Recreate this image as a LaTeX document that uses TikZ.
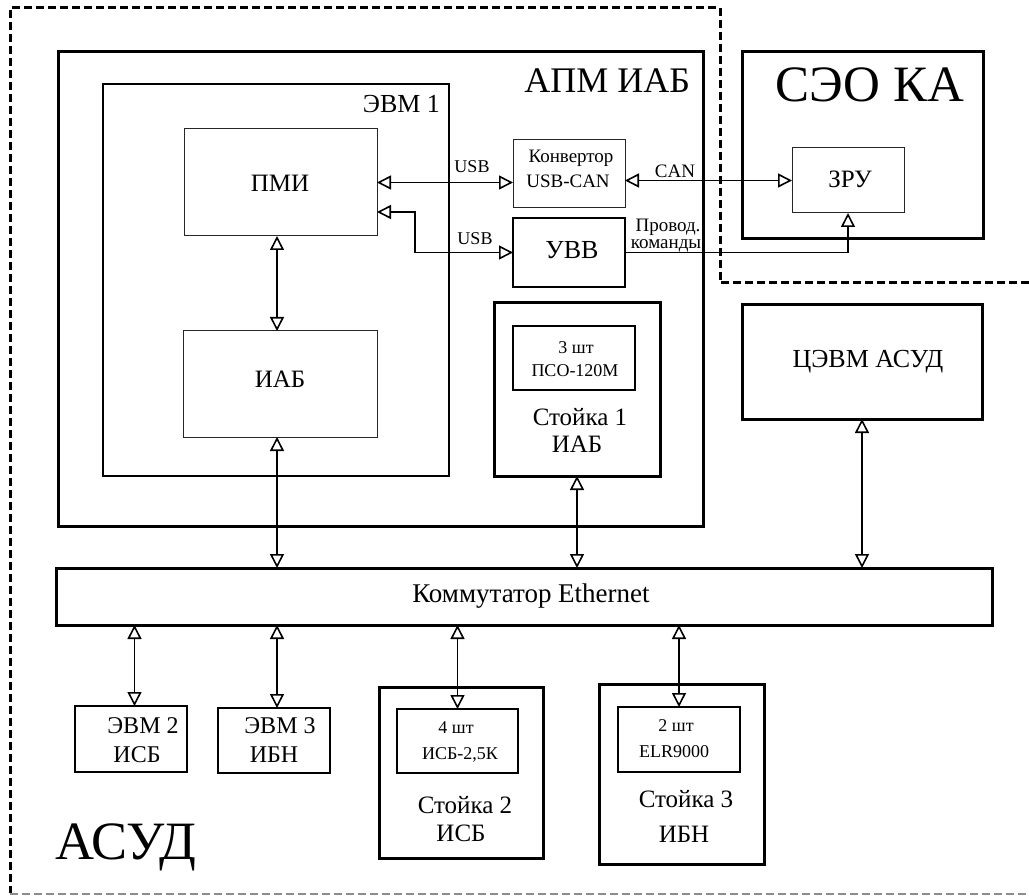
\documentclass[tikz,border=0pt]{standalone}
\usepackage{fontspec}
\setmainfont{Liberation Serif}
\usetikzlibrary{arrows.meta,fit}
\newcommand\setfs[1]{\fontsize{#1}{#1}\selectfont}
\begin{document}
\begin{tikzpicture}[x=1pt,y=-1pt,
  box/.style={draw, rectangle, inner sep=0pt, outer sep=0pt},
  thickbox/.style={box, line width=3pt},
  midbox/.style={box, line width=2pt},
  uvvbox/.style={box, line width=1.6pt},
  thinbox/.style={box, line width=1pt, draw=black!85},
  txt/.style={inner sep=0pt, outer sep=0pt, anchor=base},
  tip/.tip={Triangle[open,length=14pt,width=14pt,line width=1.6pt]},
  arr/.style={line width=1.3pt, tip-tip},
  arrone/.style={line width=1.3pt, -tip},
  asud/.style={line width=3pt, dash pattern=on 8pt off 4pt}
]
\useasboundingbox (0,0) rectangle (1029,896);

% boxes
\node[thickbox, fit={(58,52)(703,526)}] (apm) {};
\node[midbox, fit={(103,84)(449,476)}] (evm1) {};
\node[thinbox, fit={(184,129)(377,236)}] (pmi) {};
\node[thinbox, fit={(183,331)(377,437)}] (iab) {};
\node[thinbox, fit={(513,140)(625,208)}] (konv) {};
\node[uvvbox, fit={(513,218)(625,287)}] (uvv) {};
\node[thickbox, fit={(742,52)(983,239)}] (seo) {};
\node[thinbox, fit={(792,148)(904,213)}] (zru) {};
\node[thickbox, fit={(494,303)(660,476)}] (st1) {};
\node[midbox, line width=1.8pt, fit={(513,326)(635,390)}] (st1in) {};
\node[thickbox, fit={(742,305)(982,419)}] (cevm) {};
\node[thickbox, fit={(56,568)(992,625)}] (kom) {};
\node[midbox, fit={(75,706)(187,772)}] (evm2) {};
\node[midbox, fit={(218,708)(330,773)}] (evm3) {};
\node[thickbox, fit={(379,687)(543,858)}] (st2) {};
\node[midbox, line width=1.8pt, fit={(397,709)(518,773)}] (st2in) {};
\node[thickbox, fit={(599,684)(764,864)}] (st3) {};
\node[midbox, line width=1.8pt, fit={(618,707)(740,772)}] (st3in) {};

% texts
\node[txt, anchor=base east, font=\setfs{36}] (apmlbl) at (690,93) {АПМ ИАБ};
\node[txt, anchor=base east, font=\setfs{26}] (evm1lbl) at (440,113) {ЭВМ 1};
\node[txt, font=\setfs{25}] (pmilbl) at (280,192) {ПМИ};
\node[txt, font=\setfs{25}] (iablbl) at (280,387) {ИАБ};
\node[txt, font=\setfs{19}] (konv1) at (571,163) {Конвертор};
\node[txt, font=\setfs{19}] (konv2) at (568,188) {USB-CAN};
\node[txt, font=\setfs{26}] (uvvlbl) at (572,259) {УВВ};
\node[txt, font=\setfs{18}] (usb1) at (472,173) {USB};
\node[txt, font=\setfs{18}] (usb2) at (475,245) {USB};
\node[txt, font=\setfs{19}] (canlbl) at (675,178) {CAN};
\node[txt, font=\setfs{19}] (prov1) at (668,232) {Провод.};
\node[txt, font=\setfs{19}] (prov2) at (666,249) {команды};
\node[txt, font=\setfs{51}] (seolbl) at (870,102) {СЭО КА};
\node[txt, font=\setfs{25}] (zrulbl) at (850,188) {ЗРУ};
\node[txt, font=\setfs{18}] (st1a) at (576,353) {3 шт};
\node[txt, font=\setfs{18}] (st1b) at (575,377) {ПСО-120М};
\node[txt, font=\setfs{25}] (st1c) at (580,425) {Стойка 1};
\node[txt, font=\setfs{25}] (st1d) at (577,452) {ИАБ};
\node[txt, font=\setfs{26}] (cevmlbl) at (868,367) {ЦЭВМ АСУД};
\node[txt, font=\setfs{27}] (komlbl) at (531,602) {Коммутатор Ethernet};
\node[txt, font=\setfs{24}] (evm2a) at (143,733) {ЭВМ 2};
\node[txt, font=\setfs{24}] (evm2b) at (137,762) {ИСБ};
\node[txt, font=\setfs{24}] (evm3a) at (280,733) {ЭВМ 3};
\node[txt, font=\setfs{24}] (evm3b) at (274,762) {ИБН};
\node[txt, font=\setfs{18}] (st2a) at (456,733) {4 шт};
\node[txt, font=\setfs{18}] (st2b) at (460,759) {ИСБ-2,5К};
\node[txt, font=\setfs{25}] (st2c) at (465,813) {Стойка 2};
\node[txt, font=\setfs{25}] (st2d) at (461,841) {ИСБ};
\node[txt, font=\setfs{18}] (st3a) at (676,731) {2 шт};
\node[txt, font=\setfs{18}] (st3b) at (674,757) {ELR9000};
\node[txt, font=\setfs{25}] (st3c) at (686,807) {Стойка 3};
\node[txt, font=\setfs{25}] (st3d) at (684,842) {ИБН};
\node[txt, anchor=base west, font=\setfs{54}] (asudlbl) at (55,859) {АСУД};

% connectors
\draw[arr] (pmi.east) -- (pmi.east -| konv.west);
\draw[arr] ([yshift=-29.5pt]pmi.east) -- ++(38,0) |- (uvv.west);
\draw[arr] (zru.west -| konv.east) -- (zru.west);
\draw[arrone] (uvv.east) -| (zru.south);
\draw[arr] (pmi.south -| 277,0) -- (iab.north -| 277,0);
\draw[arr] (iab.south -| 277,0) -- (kom.north -| 277,0);
\draw[arr] (st1.south) -- (st1.south |- kom.north);
\draw[arr] (cevm.south) -- (cevm.south |- kom.north);
\draw[arr] (evm2.north -| 134.5,0) -- (kom.south -| 134.5,0);
\draw[arr] (evm3.north -| 277,0) -- (kom.south -| 277,0);
\draw[arr] (st2in.north) -- (st2in.north |- kom.south);
\draw[arr] (st3in.north) -- (st3in.north |- kom.south);

% dashed boundary of АСУД
\draw[asud] (1029,283) -- (720,283) -- (720,8) -- (10,8) -- (10,893);
\draw[line width=1.6pt, draw=black!45, dash pattern=on 8pt off 4pt] (10,894) -- (1029,894);
\end{tikzpicture}
\end{document}
